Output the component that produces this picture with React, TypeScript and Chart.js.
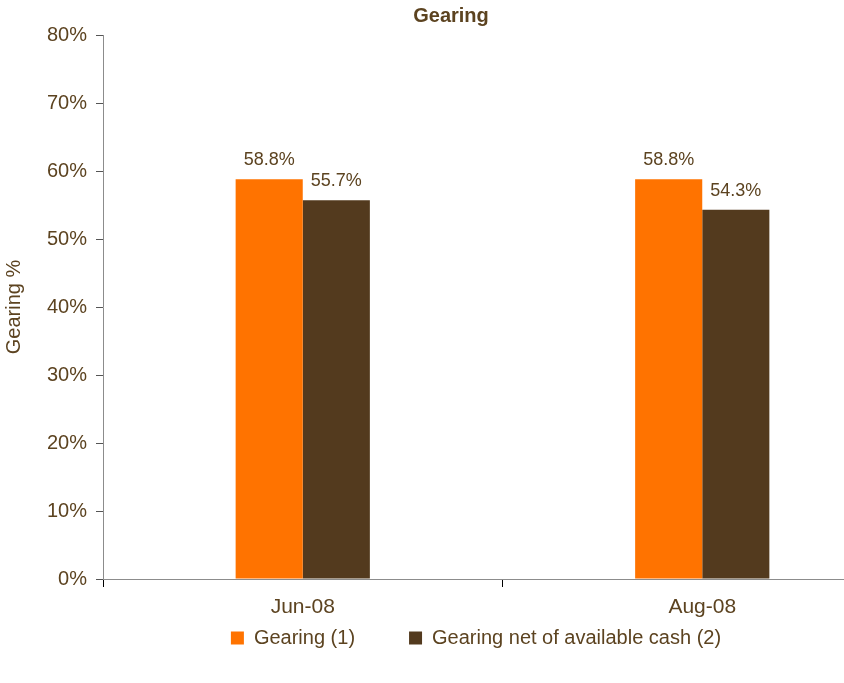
import React, { useEffect, useRef } from "react";
import { Chart, registerables } from "chart.js";

Chart.register(...registerables);

const categories = ["Jun-08", "Aug-08"];
const gearing = [58.8, 58.8];
const gearingNet = [55.7, 54.3];
const seriesNames = ["Gearing (1)", "Gearing net of available cash (2)"];
const yTicks = [0, 10, 20, 30, 40, 50, 60, 70, 80];

const TEXT = "#5C4320";
const AXIS = "#8C8C8C";
const FONT = "'Liberation Sans', Arial, sans-serif";

const valueLabels = {
  id: "valueLabels",
  afterDatasetsDraw(chart: any) {
    const ctx = chart.ctx;
    ctx.save();
    ctx.font = `18px ${FONT}`;
    ctx.fillStyle = TEXT;
    ctx.textAlign = "center";
    ctx.textBaseline = "bottom";
    chart.data.datasets.forEach((ds: any, di: number) => {
      const meta = chart.getDatasetMeta(di);
      meta.data.forEach((el: any, i: number) => {
        ctx.fillText(ds.data[i].toFixed(1) + "%", el.x, el.y - 10);
      });
    });
    ctx.restore();
  },
};

// keeps the legend compact and places it like the original
const legendPlacer = {
  id: "legendPlacer",
  beforeLayout(chart: any) {
    const lg = chart.legend;
    if (lg && !lg._patched) {
      const orig = lg.fit.bind(lg);
      lg.fit = function () {
        orig();
        this.height = 44;
      };
      lg._patched = true;
    }
  },
  afterLayout(chart: any) {
    const lg = chart.legend;
    if (!lg) return;
    const dx = 25;
    lg.left += dx;
    lg.right += dx;
    lg.top = 574;
    lg.bottom = chart.height;
  },
};

export default function App() {
  const ref = useRef<HTMLCanvasElement>(null);
  useEffect(() => {
    const chart = new Chart(ref.current!, {
      type: "bar",
      data: {
        labels: categories,
        datasets: [
          { label: seriesNames[0], data: gearing, backgroundColor: "#FF7300", categoryPercentage: 0.336, barPercentage: 1 },
          { label: seriesNames[1], data: gearingNet, backgroundColor: "#533A1E", categoryPercentage: 0.336, barPercentage: 1 },
        ],
      },
      options: {
        responsive: false,
        animation: false,
        layout: { padding: { left: 0, right: 0, top: 0, bottom: 0 } },
        plugins: {
          title: {
            display: true,
            text: "Gearing",
            color: TEXT,
            font: { family: FONT, size: 20, weight: "bold" },
            padding: { top: 4, bottom: 7 },
          },
          legend: {
            position: "bottom",
            labels: {
              color: TEXT,
              font: { family: FONT, size: 20 },
              boxWidth: 13,
              boxHeight: 13,
              padding: 54,
            },
          },
          tooltip: { enabled: false },
        },
        scales: {
          x: {
            grid: { drawOnChartArea: false, drawTicks: true, tickLength: 8, color: "#000", offset: true },
            border: { color: AXIS, width: 1 },
            ticks: { color: TEXT, font: { family: FONT, size: 21 }, padding: 8 },
            afterFit: (s: any) => { s.height = 60; },
          },
          y: {
            min: 0,
            max: 80,
            afterBuildTicks: (s: any) => { s.ticks = yTicks.map((v) => ({ value: v })); },
            grid: { drawOnChartArea: false, drawTicks: true, tickLength: 7, color: "#555" },
            border: { color: AXIS, width: 1 },
            ticks: {
              color: TEXT,
              font: { family: FONT, size: 20 },
              padding: 9,
              callback: (v: any) => v + "%",
            },
            title: {
              display: true,
              text: "Gearing %",
              color: TEXT,
              font: { family: FONT, size: 20 },
              padding: 2,
            },
            afterFit: (s: any) => { s.width = 103; },
          },
        },
      },
      plugins: [valueLabels, legendPlacer],
    });
    return () => chart.destroy();
  }, []);
  return (
    <div style={{ position: "fixed", left: 0, top: 0, width: 844, height: 683, overflow: "hidden", background: "#fff" }}>
      <canvas ref={ref} width={902} height={683} style={{ display: "block" }} />
    </div>
  );
}
